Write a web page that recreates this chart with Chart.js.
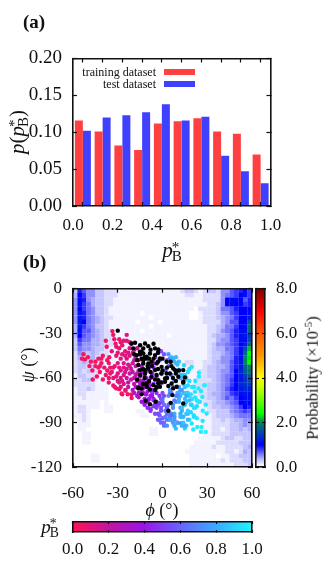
<!DOCTYPE html>
<html>
<head>
<meta charset="utf-8">
<script src="https://cdn.jsdelivr.net/npm/chart.js@4/dist/chart.umd.js"></script>
<style>
html, body { margin: 0; padding: 0; background: #fff; width: 332px; height: 566px; overflow: hidden; }
canvas { position: absolute; }
.t { position: absolute; font-family: "Liberation Serif", serif; color: #111; white-space: nowrap; line-height: 1; }
.panel { font-weight: bold; font-size: 19px; }
.rot { transform: translate(-50%, -50%) rotate(-90deg); }
.mid { transform: translate(-50%, -50%); }
.ss { display: inline-block; vertical-align: middle; text-align: left; line-height: 0.62; font-size: 0.72em; margin-left: -1px; font-style: normal; }
.ss span { display: block; }
.swatch { position: absolute; left: 164px; width: 31px; height: 6px; }
.leg { font-size: 12px; right: 176px; }
</style>
</head>
<body>
<canvas id="barChart" width="300" height="220" style="left:0;top:30px"></canvas>
<canvas id="mapChart" width="281" height="252" style="left:0;top:258px"></canvas>
<canvas id="probBar" width="70" height="240" style="left:250px;top:258px"></canvas>
<canvas id="pbBar" width="281" height="50" style="left:0;top:513px"></canvas>

<div class="t panel" style="left:23px;top:12px">(a)</div>
<div class="t panel" style="left:23px;top:252px">(b)</div>
<div class="t rot" style="left:18px;top:132px;font-size:21px"><i>p</i>(<i>p</i><span class="ss"><span>*</span><span>B</span></span>)</div>
<div class="t mid" style="left:172px;top:251px;font-size:21px"><i>p</i><span class="ss"><span>*</span><span>B</span></span></div>
<div class="t leg" style="top:66px">training dataset</div>
<div class="t leg" style="top:78px">test dataset</div>
<div class="swatch" style="top:69px;background:#ff4040"></div>
<div class="swatch" style="top:81px;background:#4040ff"></div>
<div class="t rot" style="left:28px;top:365px;font-size:18px"><i>ψ</i> (°)</div>
<div class="t mid" style="left:162px;top:510px;font-size:18px"><i>ϕ</i> (°)</div>
<div class="t rot" style="left:313px;top:378px;font-size:16.5px">Probability (×10<sup style="font-size:11px;line-height:0">-5</sup>)</div>
<div class="t mid" style="left:50px;top:527px;font-size:19px"><i>p</i><span class="ss"><span>*</span><span>B</span></span></div>

<script>
// panel (a)
const binCenters = [0.05, 0.15, 0.25, 0.35, 0.45, 0.55, 0.65, 0.75, 0.85, 0.95];
const trainingValues = [0.116, 0.101, 0.082, 0.076, 0.112, 0.115, 0.119, 0.101, 0.098, 0.070];
const testValues = [0.102, 0.120, 0.123, 0.127, 0.138, 0.116, 0.121, 0.068, 0.047, 0.031];

// panel (b) background, one row per 3 degrees of psi from 0 down to -120, values in 1e-6
const heatRows = [
  [3,9,7,5,5,3,3,2,2,2,1,1,1,1,1,1,1,1,1,1,1,1,1,1,2,3,3,2,1,2,3,3,2,5,5,7,8,9,11,8],
  [4,10,8,5,5,3,3,2,2,2,1,1,1,1,1,1,1,1,1,1,1,1,1,1,1,2,2,1,1,2,2,2,2,5,6,7,8,10,11,8],
  [5,11,9,5,4,3,3,2,2,1,1,1,1,1,1,1,1,1,1,1,1,1,1,1,1,1,1,1,1,2,2,2,2,5,10,11,11,10,7,9],
  [5,11,8,6,4,3,3,2,2,1,1,1,1,1,1,1,1,1,1,1,1,1,1,1,1,1,1,1,1,1,2,2,3,5,10,11,10,10,8,9],
  [5,10,8,6,5,3,3,2,1,1,1,1,1,1,1,1,1,1,1,1,1,1,1,1,1,1,1,0,2,2,2,2,3,6,6,7,9,10,10,10],
  [5,12,9,6,5,3,3,2,1,1,1,1,1,1,1,0,1,1,1,1,1,1,1,1,1,1,0,0,1,2,2,2,3,5,5,7,8,10,10,11],
  [5,12,9,6,5,4,3,2,2,1,1,1,1,1,1,1,1,0,1,1,1,1,1,1,1,1,0,0,1,2,2,2,3,4,5,6,8,10,10,12],
  [5,12,10,6,5,4,3,2,1,1,1,1,1,1,0,1,1,1,1,0,1,1,1,1,1,1,1,1,1,2,2,2,2,4,5,7,7,10,10,16],
  [4,12,8,6,5,3,3,2,1,1,1,1,1,1,1,1,1,0,1,1,1,1,1,1,1,1,1,1,1,1,2,2,3,4,6,6,8,10,11,18],
  [4,11,7,7,5,4,3,2,2,1,1,1,1,1,1,0,1,1,1,1,1,1,1,1,1,1,1,1,1,1,2,2,3,5,6,7,9,11,11,18],
  [4,10,7,6,5,4,3,2,2,1,1,1,1,1,1,1,1,1,1,1,1,0,1,1,1,1,1,1,1,1,2,3,4,4,5,7,9,11,12,14],
  [3,8,6,6,4,4,3,2,2,1,1,1,1,1,1,1,1,1,1,1,1,1,1,1,1,1,1,1,1,1,2,2,4,5,5,7,8,11,11,16],
  [3,7,5,5,4,4,3,2,2,1,1,1,1,1,1,1,1,1,0,1,1,1,1,1,1,1,1,1,1,1,2,3,5,5,6,7,8,10,12,18],
  [3,6,5,5,4,3,3,2,1,1,1,1,1,1,1,1,1,1,1,1,1,1,1,1,1,1,1,1,1,1,2,3,4,4,6,6,8,11,16,22],
  [2,5,4,3,4,3,2,2,1,1,1,1,1,1,1,1,1,1,1,1,1,1,1,1,1,1,1,1,1,1,2,3,3,4,5,6,8,11,18,24],
  [2,4,3,3,4,2,2,2,1,1,1,1,1,1,1,1,1,1,1,1,1,1,1,1,1,1,1,1,1,1,2,3,3,5,5,6,9,11,20,23],
  [2,3,4,3,3,2,2,1,1,1,1,1,1,1,1,1,1,1,1,1,1,1,1,1,1,2,2,1,1,2,2,3,4,5,5,7,9,12,20,24],
  [2,3,3,2,3,2,2,1,1,1,1,1,1,1,1,1,1,1,1,1,1,1,1,1,1,1,2,1,1,2,3,3,4,4,5,7,9,12,18,20],
  [2,3,2,3,2,2,1,1,1,1,1,1,1,1,1,1,1,1,1,1,1,1,1,1,1,1,1,1,2,2,3,3,4,5,5,7,10,13,17,19],
  [1,3,3,2,2,2,1,1,1,1,1,1,1,1,1,1,1,1,1,1,1,1,1,1,1,1,1,1,2,2,3,3,4,5,6,7,10,12,15,17],
  [2,2,3,3,2,1,1,1,1,1,0,0,1,1,1,1,1,1,1,1,1,1,1,1,1,1,1,2,2,2,2,3,4,5,6,8,10,12,14,16],
  [2,2,2,2,2,1,1,1,0,0,0,0,0,0,0,0,0,0,0,0,0,0,0,1,1,1,1,2,2,2,3,3,4,5,6,8,10,13,14,15],
  [1,2,2,3,2,1,1,1,0,0,0,0,0,0,0,0,0,0,0,0,0,0,0,1,1,1,1,1,2,2,3,3,4,5,7,9,10,12,13,12],
  [1,2,2,1,1,1,1,1,0,0,0,0,0,0,0,0,0,0,0,0,0,0,0,0,0,1,1,1,2,2,3,4,4,5,6,8,9,11,12,11],
  [1,1,2,1,1,1,1,1,0,0,0,0,0,0,0,0,0,0,0,0,0,0,0,0,0,1,1,1,1,2,3,3,4,5,7,6,8,10,11,11],
  [1,1,1,1,1,1,0,1,0,0,0,0,0,0,0,0,0,0,0,0,0,0,0,0,0,0,1,1,1,2,2,3,4,4,5,6,7,10,11,10],
  [1,2,2,1,1,1,0,1,1,0,0,0,0,0,0,0,0,0,0,0,0,0,0,0,0,0,0,1,1,1,2,3,3,4,4,5,6,8,10,9],
  [1,2,2,1,0,0,0,1,1,0,0,0,0,0,1,1,0,0,0,0,0,0,0,0,0,0,0,1,1,1,2,2,3,3,3,5,6,7,8,7],
  [1,1,2,1,0,0,0,0,0,0,0,0,0,0,0,1,1,0,0,0,0,0,0,0,0,0,0,0,1,1,1,2,3,3,3,4,5,6,6,6],
  [0,1,2,1,0,0,0,0,0,0,0,0,0,0,0,0,0,0,0,1,1,0,0,0,0,0,0,0,1,1,1,2,2,3,2,3,4,4,5,5],
  [0,1,1,1,0,0,0,0,0,0,0,0,0,0,0,0,0,0,0,0,0,0,0,0,0,0,0,0,0,1,1,2,2,2,2,3,3,4,5,4],
  [0,1,1,0,0,0,0,0,0,0,0,0,0,0,0,0,0,1,1,0,0,0,0,0,0,0,0,0,0,1,1,2,2,1,2,3,3,4,3,4],
  [0,0,1,1,0,0,0,0,0,0,0,0,0,0,0,0,0,1,1,0,0,0,0,0,0,0,0,0,0,1,1,2,2,2,2,3,3,3,3,3],
  [0,0,1,1,0,0,0,0,0,0,0,0,0,0,0,0,0,0,0,0,0,0,0,0,0,0,0,0,1,1,1,1,1,2,3,3,2,2,3,3],
  [0,0,1,1,0,0,0,0,0,0,0,0,0,0,0,0,0,0,0,0,0,0,0,0,0,0,0,1,1,1,1,1,2,2,2,2,2,3,3,3],
  [0,0,0,0,0,0,0,0,0,0,0,0,0,0,0,0,0,0,0,0,0,0,0,0,0,0,1,1,1,1,1,2,1,1,2,2,2,2,3,4],
  [0,0,0,0,0,0,0,0,0,0,0,0,0,0,0,0,0,0,0,0,0,0,0,0,0,1,1,1,1,1,1,1,1,1,2,2,1,2,4,3],
  [0,0,0,0,1,1,0,0,0,0,0,0,0,0,0,0,0,0,0,0,0,0,0,0,0,0,1,1,1,1,1,1,0,1,1,2,2,3,3,3],
  [0,0,0,0,1,1,0,0,0,0,0,0,0,0,0,0,0,0,0,0,0,0,0,0,0,0,1,1,1,1,1,1,1,2,1,2,2,2,3,3],
  [0,0,0,0,0,0,0,0,0,0,0,0,0,0,0,0,0,0,0,0,0,0,0,0,0,0,1,1,1,1,1,1,1,1,1,1,2,2,2,3]
];

// test points, colored by committor
const pointPhi = [
  -33.6,-33,-32.3,-38,-37.4,-31.5,-31,-24,-26,-27,-29,-30,-27,-25,-22,-35.7,-53,-52,-54,-48,-45,-45,-47,-46.8,-41,-39,-42,-44,-38,-40,
  -36,-34,-32,-30,-28,-26,-24,-22,-20,-18,-36,-33,-30,-28,-26,-24,-22,-20,-18,-16,-33,-30,-28,-26,-24,-22,-20,-18,-16,-14,
  -31,-28,-25,-23,-21,-19,-17,-15,-13,-27,-32,-29,-27.4,-23.3,-20.7,-20.7,-24.7,-35,-37,-43,-50,-41,-34,-29,-21,-17,-23,-26,-19,-15,
  -15,-12,-18,-13,-20,-10,-16,-8,-11,-14,-6,-9,-12,-17,-5,-7,-10,-13,-3,-6,-9,-15,-2,-4,-8,-12,-1,-3,-6,-10,
  -14,-11,-7,-4,-1,1,3,-2,0,-5,-8,2,4,-3,0,-6,5,-1,3,-4,
  -12,-8,-3,2,6,-10,-6,-1,4,8,-9,-4,0,5,9,-7,-2,3,7,11,-5,0,4,9,12,-3,1,6,10,14,
  -1,3,8,12,15,1,5,10,13,17,3,7,11,15,18,5,9,13,16,20,
  0,2,4,7,1,-2,5,8,10,12,14,17,16,19,21,11,13,18,20,15,
  12.4,20.6,23.3,26.1,29,25.8,26.9,19.6,29.6,26.7,25.8,28,21,19,21.8,19.5,23,25,16,13,
  19.6,24.4,24.4,28.4,14.4,10,11,6.2,8,4,12,16,17,18,22,23,9,7,15,14,
  10,12,8,6,9,4,14,16,18,11,13,15,21,17,3,5,7,8,10,12,
  -49,-43,-40,-36,-31,-33,-29,-35,-31,-37,-42,-25,-23,-19,-28,-24,-22,-25,-21,-27,-23,-29,-19,-17,-15,-17,-14,-19,-16,-11,
  -9,-12,-7,-13,-11,-8,-10,-6,-4,-2,1,3,6,-1,8,10,6,12,16,18,22,24,17,15,21,19,23,27,29,22,20,24,17,15,13,11,9
];
const pointPsi = [
  -28.5,-31,-34,-35,-39,-37,-39,-31,-35,-38,-40,-43,-44,-42,-40,-46,-44,-47.5,-47,-49,-49,-52,-55,-61,-50,-53,-56,-59,-58,-61,
  -60,-56,-52,-50,-47,-50,-47,-45,-43,-46,-63,-60,-57,-55,-58,-54,-52,-50,-52,-48,-65,-62,-60,-64,-60,-57,-56,-58,-55,-52,
  -67,-66,-68,-63,-61,-64,-62,-59,-56,-71,-66,-67.5,-70.4,-70.9,-73.4,-71,-68.6,-53,-48,-53,-46,-47,-42,-34,-37,-40,-51,-53,-48,-44,
  -62,-58,-66,-62,-68,-55,-70,-52,-60,-56,-50,-63,-66,-72,-46,-57,-69,-70,-43,-53,-65,-65,-48,-59,-72,-74,-42,-63,-74,-76,
  -76,-71,-68,-67,-57,-44,-48,-72,-63,-78,-81,-55,-52,-78,-70,-75,-47,-74,-60,-80,
  -78,-82,-84,-82,-58,-80,-79,-80,-78,-62,-74,-76,-76,-70,-56,-70,-85,-84,-66,-66,-84,-87,-88,-76,-60,-88,-90,-84,-72,-70,
  -90,-88,-86,-80,-66,-92,-86,-90,-82,-70,-82,-78,-74,-78,-62,-68,-72,-86,-70,-74,
  -74,-86,-72,-80,-78,-88,-84,-88,-90,-84,-86,-84,-76,-78,-80,-70,-68,-72,-66,-74,
  -90.4,-94.6,-92.9,-92.9,-96.2,-96.2,-88.8,-90.6,-83.9,-72.7,-68.8,-64.8,-66,-71,-69.3,-78,-79,-76,-84,-92,
  -52.5,-56.5,-59,-64.8,-51.4,-51,-54.5,-46.2,-49,-44,-58,-60,-56,-54,-62,-75,-50,-47,-58,-64,
  -70,-86,-84,-88,-94,-82,-90,-92,-88,-76,-80,-94,-85,-82,-92,-88,-90,-92,-66,-72,
  -52,-47,-45,-50,-45,-53,-53,-57,-59,-55,-52,-45,-43,-41,-36,-35,-36,-56,-54,-62,-66,-63,-60,-57,-63,-66,-69,-70,-73,-71,
  -74,-77,-72,-67,-63,-60,-66,-64,-70,-77,-72,-80,-85,-82,-75,-72,-70,-68,-72,-75,-80,-76,-88,-92,-86,-83,-87,-82,-78,-73,-66,-67,-65,-61,-58,-49,-46
];
const pointP = [
  .04,.04,.05,.02,.03,.06,.06,.1,.08,.07,.06,.06,.1,.1,.12,.03,.02,.02,.02,.02,.03,.03,.02,.02,.04,.05,.03,.03,.06,.04,
  .06,.08,.08,.12,.1,.12,.14,.1,.16,.15,.06,.1,.12,.14,.12,.16,.14,.18,.2,.2,.1,.12,.16,.12,.18,.2,.22,.24,.26,.28,
  .14,.18,.2,.22,.2,.24,.28,.3,.32,.14,.02,.02,.03,.04,.05,.06,.05,.06,.04,.03,.02,.04,.1,.06,.14,.2,.14,.12,.22,.24,
  .34,.36,.32,.38,.3,.38,.34,.4,.38,.36,.42,.4,.38,.32,.44,.42,.36,.36,.46,.44,.4,.36,.48,.44,.38,.36,.5,.46,.4,.38,
  .38,.42,.46,.5,.54,.56,.56,.48,.52,.48,.44,.58,.6,.5,.54,.46,.62,.52,.58,.5,
  .44,.48,.54,.6,.68,.46,.5,.56,.62,.72,.48,.54,.6,.66,.74,.5,.56,.62,.7,.76,.54,.6,.64,.72,.8,.56,.62,.68,.76,.84,
  .6,.66,.72,.8,.86,.64,.7,.76,.82,.9,.68,.74,.8,.86,.92,.72,.78,.82,.9,.96,
  .62,.66,.7,.72,.64,.6,.7,.74,.76,.8,.82,.86,.86,.9,.94,.8,.82,.9,.94,.84,
  .72,.97,.98,.98,.99,.98,.96,.95,.96,.97,.96,.98,.96,.94,.96,.9,.92,.94,.86,.8,
  .96,.98,.98,.99,.92,.84,.86,.82,.84,.74,.88,.92,.94,.94,.96,.95,.84,.8,.9,.9,
  .8,.84,.82,.8,.86,.74,.88,.9,.94,.82,.86,.9,.97,.92,.72,.76,.78,.8,.78,.82,
  .03,.04,.04,.05,.08,.07,.1,.06,.08,.05,.03,.1,.12,.14,.08,.1,.12,.14,.16,.12,.16,.08,.2,.22,.28,.26,.3,.22,.3,.34,
  .38,.36,.4,.32,.36,.4,.36,.42,.46,.48,.54,.58,.62,.54,.66,.7,.66,.74,.8,.86,.94,.96,.84,.8,.92,.9,.96,.98,.98,.96,.96,.97,.92,.88,.86,.86,.84
];

// black points
const blackPhi = [
  -30,-20.7,-18.4,-19.6,-11.7,-14,-17.3,-10.6,-12.9,-16.2,-9.5,-11.7,-16.2,-10.6,-16.2,
  -9.5,-12.9,-5,-2.8,-15.1,-12.9,-8.4,-5,-1.7,2.8,5.5,7.2,8.4,13.9,15,13.9,10.6,5,
  -10.6,-7.3,-3.9,-.6,-12.9,-9.5,-5,-.6,2.8,-15.1,-11.7,-7.3,-2.8,1.7,-10.6,-6.2,-1.7,6.1,
  -11.3,-8.4,-4.6,3.9,5.5,13.9,-2.8,3.9,7.2,9.5,6.6,-8.4,-14,-5,1.7,13.9,
  -15,-8,-6,-3,-12,-9,-6,-3,0,-14,-17,-19,-15,-13,-15,-10,-7,-3,0,3,6,9,7,3,-4,-8,-12,-9,-5,-1,-13,-14,-17,-4,11,9
];
const blackPsi = [
  -28.2,-36.8,-36.3,-40.1,-36.8,-42.4,-44.6,-45.7,-48,-51.3,-50.2,-54.7,-66.6,-65.9,-67,
  -38.6,-40.1,-40.1,-40.8,-42.4,-43.5,-43.5,-44.6,-46.9,-49.1,-49.1,-53.6,-54.7,-54.7,-59.6,-63,-59.2,-57,
  -46.9,-49.1,-50.2,-52.5,-50.2,-53.6,-54.7,-57,-57,-54.7,-57,-59.2,-61.4,-60.3,-63.7,-64.8,-65.9,-63.7,
  -75.3,-77.6,-76,-82,-76.7,-77.1,-63.6,-65.4,-67,-65.9,-71.5,-67.7,-67,-68.1,-62.5,-62.5,
  -38,-41,-37,-43,-46,-47,-47,-49,-47,-47,-48,-44,-44,-54,-58,-52,-52,-54,-55,-53,-52,-57,-60,-60,-58,-56,-60,-62,-61,-63,-64,-71,-61,-66,-55,-62
];

// tick labels
const probTicks = ['0.0', '2.0', '4.0', '6.0', '8.0'];
const pbTicks = ['0.0', '0.2', '0.4', '0.6', '0.8', '1.0'];

// color stops [value, r, g, b]
const heatStops = [[0,255,255,255],[0.1,243,243,255],[0.4,175,175,255],[1.0,0,0,255],[1.4,0,50,205],[2.0,0,130,90],[2.4,0,255,0],[3.4,170,255,0],[4.0,255,255,0],[5.0,255,150,0],[6.0,255,85,0],[7.0,255,0,0],[8.0,130,0,0]];
const pbStops = [[0,255,20,85],[0.2,195,20,160],[0.4,155,20,235],[0.6,105,100,255],[0.8,60,170,255],[1.0,30,245,255]];

const FONT = 'Liberation Serif';
Chart.defaults.animation = false;
Chart.defaults.font.family = FONT;
Chart.defaults.color = '#111';
Chart.defaults.events = [];
Chart.defaults.plugins.legend.display = false;
Chart.defaults.plugins.tooltip.enabled = false;

function lookup(stops, v) {
  let i = 1;
  while (i < stops.length - 1 && stops[i][0] < v) i++;
  const a = stops[i - 1], b = stops[i];
  const f = Math.min(1, Math.max(0, (v - a[0]) / (b[0] - a[0])));
  const mix = k => Math.round(a[k] + (b[k] - a[k]) * f);
  return `rgb(${mix(1)},${mix(2)},${mix(3)})`;
}

function gradientFill(stops, horizontal) {
  return ctx => {
    const area = ctx.chart.chartArea;
    if (!area) return '#888';
    const g = horizontal
      ? ctx.chart.ctx.createLinearGradient(area.left, 0, area.right, 0)
      : ctx.chart.ctx.createLinearGradient(0, area.bottom, 0, area.top);
    const top = stops[stops.length - 1][0];
    stops.forEach(s => g.addColorStop(s[0] / top, `rgb(${s[1]},${s[2]},${s[3]})`));
    return g;
  };
}

// axis with ticks pointing into the plot and a fixed thickness
function axis(position, min, max, step, size, opts = {}) {
  const horizontal = position === 'top' || position === 'bottom';
  return {
    type: 'linear',
    position, min, max,
    offset: false,
    afterFit: s => { if (horizontal) s.height = size; else s.width = size; },
    border: { display: true, color: '#111', width: 1.6, z: 2 },
    grid: { drawOnChartArea: false, drawTicks: !opts.noTicks, tickLength: -(opts.tick || 4), tickColor: '#111', tickWidth: 1.2, z: 2 },
    ticks: {
      display: !!opts.labels,
      stepSize: step,
      autoSkip: false,
      maxRotation: 0,
      padding: opts.pad || 0,
      font: { size: opts.fontSize || 17 },
      color: '#111',
      callback: opts.labels
    }
  };
}

// panel (a)
new Chart(document.getElementById('barChart'), {
  type: 'bar',
  data: {
    datasets: [
      { label: 'training dataset', data: binCenters.map((x, i) => ({ x, y: trainingValues[i] })), backgroundColor: '#ff4040' },
      { label: 'test dataset', data: binCenters.map((x, i) => ({ x, y: testValues[i] })), backgroundColor: '#4040ff' }
    ]
  },
  options: {
    responsive: false,
    layout: { padding: 0 },
    datasets: { bar: { categoryPercentage: 0.81, barPercentage: 1 } },
    scales: {
      x: axis('bottom', 0, 1, 0.1, 44, { pad: 13, fontSize: 17, labels: v => Math.round(v * 10) % 2 === 0 ? v.toFixed(1) : '' }),
      y: axis('left', 0, 0.2, 0.05, 73, { pad: 15, fontSize: 19, labels: v => v.toFixed(2) }),
      x2: axis('top', 0, 1, 0.1, 28.5),
      y2: axis('right', 0, 0.2, 0.05, 29.5)
    }
  }
});

// panel (b)
const heatData = [];
const heatColors = [];
heatRows.forEach((row, j) => row.forEach((v, i) => {
  heatData.push({ x: -58.5 + 3 * i, y: -1.5 - 3 * j });
  heatColors.push(lookup(heatStops, v / 10));
}));

new Chart(document.getElementById('mapChart'), {
  type: 'scatter',
  data: {
    datasets: [
      { data: heatData, order: 3, pointStyle: 'rect', pointRadius: 3.3, borderWidth: 0, backgroundColor: heatColors },
      { data: pointPhi.map((x, i) => ({ x, y: pointPsi[i] })), order: 2, pointRadius: 2.2, borderWidth: 0, backgroundColor: pointP.map(p => lookup(pbStops, p)) },
      { data: blackPhi.map((x, i) => ({ x, y: blackPsi[i] })), order: 1, pointRadius: 2.2, borderWidth: 0, backgroundColor: '#000' }
    ]
  },
  options: {
    responsive: false,
    layout: { padding: 0 },
    scales: {
      x: axis('bottom', -60, 60, 30, 42.7, { pad: 20, fontSize: 17, labels: v => String(v) }),
      y: axis('left', -120, 0, 30, 73, { pad: 15, fontSize: 17, labels: v => String(v) }),
      x2: axis('top', -60, 60, 30, 30.7),
      y2: axis('right', -120, 0, 30, 29)
    }
  }
});

// probability color bar
new Chart(document.getElementById('probBar'), {
  type: 'bar',
  data: {
    labels: ['Probability'],
    datasets: [{ data: [[0, 8]], backgroundColor: gradientFill(heatStops, false), yAxisID: 'y' }]
  },
  options: {
    responsive: false,
    layout: { padding: 0 },
    datasets: { bar: { categoryPercentage: 1, barPercentage: 1 } },
    scales: {
      x: { display: false },
      y: axis('right', 0, 8, 2, 55, { pad: 14, fontSize: 17, tick: 3, labels: (v, i) => probTicks[i] }),
      y2: axis('left', 0, 8, 2, 6, { tick: 3 }),
      x2: axis('top', 0, 1, 1, 30.7, { noTicks: true }),
      x3: axis('bottom', 0, 1, 1, 30.7, { noTicks: true })
    }
  }
});

// committor color bar
new Chart(document.getElementById('pbBar'), {
  type: 'bar',
  data: {
    labels: ['pB'],
    datasets: [{ data: [[0, 1]], backgroundColor: gradientFill(pbStops, true), xAxisID: 'x' }]
  },
  options: {
    indexAxis: 'y',
    responsive: false,
    layout: { padding: 0 },
    datasets: { bar: { categoryPercentage: 1, barPercentage: 1 } },
    scales: {
      y: { display: false },
      x: axis('bottom', 0, 1, 0.2, 31, { pad: 9, fontSize: 17, tick: 2, labels: (v, i) => pbTicks[i] }),
      x2: axis('top', 0, 1, 0.2, 9, { tick: 2 }),
      y2: axis('left', 0, 1, 1, 72.7, { noTicks: true }),
      y3: axis('right', 0, 1, 1, 29, { noTicks: true })
    }
  }
});
</script>
</body>
</html>
